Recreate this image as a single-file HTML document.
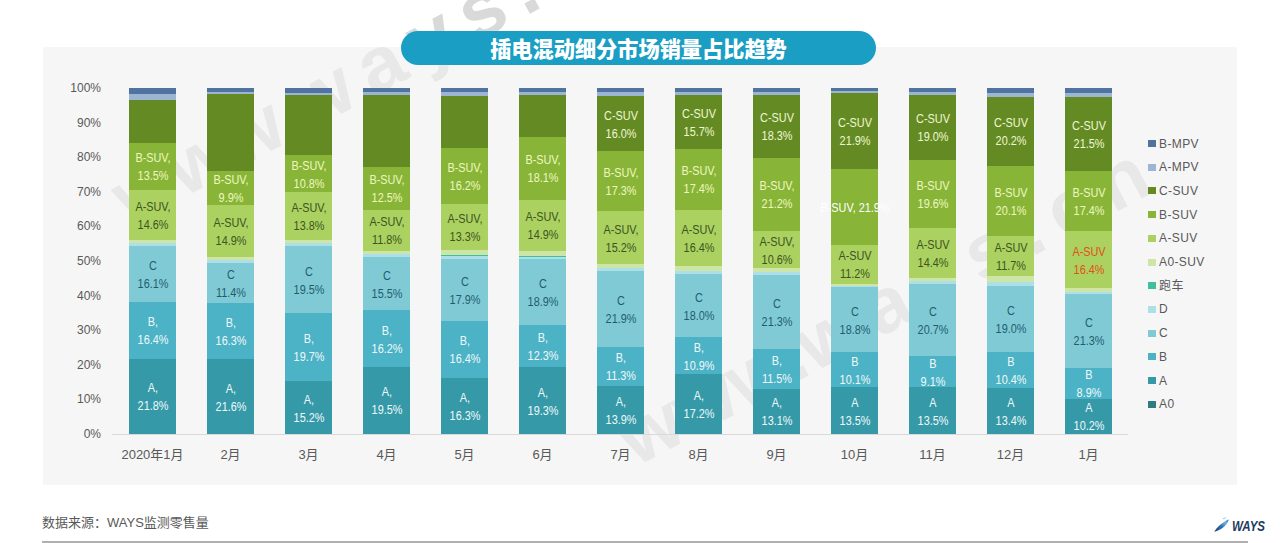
<!DOCTYPE html>
<html><head><meta charset="utf-8"><title>插电混动细分市场销量占比趋势</title>
<style>
*{margin:0;padding:0;box-sizing:border-box}
html,body{width:1280px;height:543px;overflow:hidden;background:#fff}
body{position:relative;font-family:"Liberation Sans","Noto Sans CJK SC",sans-serif}
.panel{position:absolute;left:43px;top:47px;width:1194px;height:438px;background:#f6f6f6}
.s{position:absolute;width:47px}
.l{position:absolute;width:120px;text-align:center;font-size:12px;line-height:18px;white-space:nowrap;transform:scaleX(0.905)}
.xl{position:absolute;top:446px;width:100px;text-align:center;font-size:13px;line-height:18px;color:#595959;white-space:nowrap}
.yl{position:absolute;left:40px;width:61px;text-align:right;font-size:12px;line-height:16px;color:#595959}
.axis{position:absolute;left:112px;top:434px;width:1016px;height:1px;background:#d9d9d9}
.lg{position:absolute;left:1148px;width:8px;height:7px}
.lt{position:absolute;left:1159px;font-size:12px;line-height:16px;color:#595959;letter-spacing:0.4px;white-space:nowrap}
.pill{position:absolute;left:401px;top:31px;width:475px;height:34px;border-radius:17px;background:#1a9ec4}
.title{position:absolute;left:401px;top:30.7px;width:475px;height:34px;line-height:34px;text-align:center;color:#fff;font-weight:900;font-size:21.2px;font-family:"Noto Sans CJK SC",sans-serif;padding-left:0px}
.src{position:absolute;left:42px;top:514px;font-size:13px;line-height:18px;color:#595959;white-space:nowrap}
.bline{position:absolute;left:42px;top:541px;width:1206px;height:2px;background:#b0b0b0}
.logo{position:absolute;left:1231.5px;top:517.5px;font-size:14.4px;font-weight:bold;font-style:italic;color:#1d3b5e;line-height:17px;transform:scaleX(0.8);transform-origin:0 0}
.wmc{position:absolute;overflow:hidden}
.wm{position:absolute;font-family:"Liberation Sans",sans-serif;font-weight:bold;font-size:78px;line-height:1;color:#e8e8e8;white-space:nowrap;transform-origin:0 0;transform:rotate(-28deg);letter-spacing:14px}
</style></head><body>
<div class="panel"></div>
<div class="wmc" style="left:0;top:0;width:1280px;height:47px"><div class="wm" style="left:99px;top:167.5px;color:#d9d9d9"><span style="letter-spacing:0">www.</span>ways.cn</div></div>
<div class="wmc" style="left:43px;top:47px;width:1194px;height:438px"><div class="wm" style="left:56px;top:120.5px"><span style="letter-spacing:0">www.</span>ways.cn</div><div class="wm" style="left:562px;top:361.5px"><span style="letter-spacing:0">www.</span>ways.cn</div></div>
<div class="pill"></div>
<div class="title">插电混动细分市场销量占比趋势</div>
<div class="yl" style="top:426px">0%</div>
<div class="yl" style="top:391.4px">10%</div>
<div class="yl" style="top:356.8px">20%</div>
<div class="yl" style="top:322.2px">30%</div>
<div class="yl" style="top:287.6px">40%</div>
<div class="yl" style="top:253px">50%</div>
<div class="yl" style="top:218.4px">60%</div>
<div class="yl" style="top:183.8px">70%</div>
<div class="yl" style="top:149.2px">80%</div>
<div class="yl" style="top:114.6px">90%</div>
<div class="yl" style="top:80px">100%</div>
<div class="axis"></div>
<div class="s" style="left:129px;top:88px;height:6px;background:#50749f"></div>
<div class="s" style="left:129px;top:94px;height:6px;background:#9bb5d2"></div>
<div class="s" style="left:129px;top:100px;height:43px;background:#648b23"></div>
<div class="s" style="left:129px;top:143px;height:46.71px;background:#88b537"></div>
<div class="s" style="left:129px;top:189.71px;height:50.52px;background:#abd160"></div>
<div class="s" style="left:129px;top:240.23px;height:3.24px;background:#cde5a6"></div>
<div class="s" style="left:129px;top:243.47px;height:2.65px;background:#ace0e6"></div>
<div class="s" style="left:129px;top:246.12px;height:55.71px;background:#80cad6"></div>
<div class="s" style="left:129px;top:301.83px;height:56.74px;background:#4cb2c5"></div>
<div class="s" style="left:129px;top:358.57px;height:75.43px;background:#3599a8"></div>
<div class="s" style="left:207px;top:88px;height:3.75px;background:#50749f"></div>
<div class="s" style="left:207px;top:91.75px;height:2.25px;background:#9bb5d2"></div>
<div class="s" style="left:207px;top:94px;height:76.75px;background:#648b23"></div>
<div class="s" style="left:207px;top:170.75px;height:34.25px;background:#88b537"></div>
<div class="s" style="left:207px;top:205px;height:51.55px;background:#abd160"></div>
<div class="s" style="left:207px;top:256.56px;height:3.78px;background:#cde5a6"></div>
<div class="s" style="left:207px;top:260.33px;height:3.09px;background:#ace0e6"></div>
<div class="s" style="left:207px;top:263.42px;height:39.44px;background:#80cad6"></div>
<div class="s" style="left:207px;top:302.87px;height:56.4px;background:#4cb2c5"></div>
<div class="s" style="left:207px;top:359.26px;height:74.74px;background:#3599a8"></div>
<div class="s" style="left:285px;top:88px;height:4.5px;background:#50749f"></div>
<div class="s" style="left:285px;top:92.5px;height:2.5px;background:#9bb5d2"></div>
<div class="s" style="left:285px;top:95px;height:60px;background:#648b23"></div>
<div class="s" style="left:285px;top:155px;height:37.37px;background:#88b537"></div>
<div class="s" style="left:285px;top:192.37px;height:47.75px;background:#abd160"></div>
<div class="s" style="left:285px;top:240.12px;height:3.11px;background:#cde5a6"></div>
<div class="s" style="left:285px;top:243.23px;height:2.55px;background:#ace0e6"></div>
<div class="s" style="left:285px;top:245.78px;height:67.47px;background:#80cad6"></div>
<div class="s" style="left:285px;top:313.25px;height:68.16px;background:#4cb2c5"></div>
<div class="s" style="left:285px;top:381.41px;height:52.59px;background:#3599a8"></div>
<div class="s" style="left:363px;top:88px;height:4px;background:#50749f"></div>
<div class="s" style="left:363px;top:92px;height:3px;background:#9bb5d2"></div>
<div class="s" style="left:363px;top:95px;height:71.75px;background:#648b23"></div>
<div class="s" style="left:363px;top:166.75px;height:43.25px;background:#88b537"></div>
<div class="s" style="left:363px;top:210px;height:40.83px;background:#abd160"></div>
<div class="s" style="left:363px;top:250.83px;height:3.31px;background:#cde5a6"></div>
<div class="s" style="left:363px;top:254.14px;height:2.71px;background:#ace0e6"></div>
<div class="s" style="left:363px;top:256.85px;height:53.63px;background:#80cad6"></div>
<div class="s" style="left:363px;top:310.48px;height:56.05px;background:#4cb2c5"></div>
<div class="s" style="left:363px;top:366.53px;height:67.47px;background:#3599a8"></div>
<div class="s" style="left:441px;top:88px;height:4px;background:#50749f"></div>
<div class="s" style="left:441px;top:92px;height:4px;background:#9bb5d2"></div>
<div class="s" style="left:441px;top:96px;height:52px;background:#648b23"></div>
<div class="s" style="left:441px;top:148px;height:56.05px;background:#88b537"></div>
<div class="s" style="left:441px;top:204.05px;height:46.02px;background:#abd160"></div>
<div class="s" style="left:441px;top:250.07px;height:4.87px;background:#cde5a6"></div>
<div class="s" style="left:441px;top:254.94px;height:1px;background:#3fbf9e"></div>
<div class="s" style="left:441px;top:255.94px;height:2.98px;background:#ace0e6"></div>
<div class="s" style="left:441px;top:258.92px;height:61.93px;background:#80cad6"></div>
<div class="s" style="left:441px;top:320.86px;height:56.74px;background:#4cb2c5"></div>
<div class="s" style="left:441px;top:377.6px;height:56.4px;background:#3599a8"></div>
<div class="s" style="left:519px;top:88px;height:4px;background:#50749f"></div>
<div class="s" style="left:519px;top:92px;height:3px;background:#9bb5d2"></div>
<div class="s" style="left:519px;top:95px;height:42px;background:#648b23"></div>
<div class="s" style="left:519px;top:137px;height:62.63px;background:#88b537"></div>
<div class="s" style="left:519px;top:199.63px;height:51.55px;background:#abd160"></div>
<div class="s" style="left:519px;top:251.18px;height:4.45px;background:#cde5a6"></div>
<div class="s" style="left:519px;top:255.63px;height:1px;background:#3fbf9e"></div>
<div class="s" style="left:519px;top:256.63px;height:2.64px;background:#ace0e6"></div>
<div class="s" style="left:519px;top:259.27px;height:65.39px;background:#80cad6"></div>
<div class="s" style="left:519px;top:324.66px;height:42.56px;background:#4cb2c5"></div>
<div class="s" style="left:519px;top:367.22px;height:66.78px;background:#3599a8"></div>
<div class="s" style="left:597px;top:88px;height:4px;background:#50749f"></div>
<div class="s" style="left:597px;top:92px;height:4px;background:#9bb5d2"></div>
<div class="s" style="left:597px;top:96px;height:55.36px;background:#648b23"></div>
<div class="s" style="left:597px;top:151.36px;height:59.86px;background:#88b537"></div>
<div class="s" style="left:597px;top:211.22px;height:52.59px;background:#abd160"></div>
<div class="s" style="left:597px;top:263.81px;height:3.97px;background:#cde5a6"></div>
<div class="s" style="left:597px;top:267.78px;height:3.25px;background:#ace0e6"></div>
<div class="s" style="left:597px;top:271.03px;height:75.77px;background:#80cad6"></div>
<div class="s" style="left:597px;top:346.81px;height:39.1px;background:#4cb2c5"></div>
<div class="s" style="left:597px;top:385.91px;height:48.09px;background:#3599a8"></div>
<div class="s" style="left:675px;top:88px;height:4px;background:#50749f"></div>
<div class="s" style="left:675px;top:92px;height:3px;background:#9bb5d2"></div>
<div class="s" style="left:675px;top:95px;height:54.32px;background:#648b23"></div>
<div class="s" style="left:675px;top:149.32px;height:60.2px;background:#88b537"></div>
<div class="s" style="left:675px;top:209.53px;height:56.74px;background:#abd160"></div>
<div class="s" style="left:675px;top:266.27px;height:4.52px;background:#cde5a6"></div>
<div class="s" style="left:675px;top:270.79px;height:3.7px;background:#ace0e6"></div>
<div class="s" style="left:675px;top:274.49px;height:62.28px;background:#80cad6"></div>
<div class="s" style="left:675px;top:336.77px;height:37.71px;background:#4cb2c5"></div>
<div class="s" style="left:675px;top:374.49px;height:59.51px;background:#3599a8"></div>
<div class="s" style="left:753px;top:88px;height:4px;background:#50749f"></div>
<div class="s" style="left:753px;top:92px;height:2.5px;background:#9bb5d2"></div>
<div class="s" style="left:753px;top:94.5px;height:63.32px;background:#648b23"></div>
<div class="s" style="left:753px;top:157.82px;height:73.35px;background:#88b537"></div>
<div class="s" style="left:753px;top:231.17px;height:36.68px;background:#abd160"></div>
<div class="s" style="left:753px;top:267.85px;height:4.04px;background:#cde5a6"></div>
<div class="s" style="left:753px;top:271.88px;height:3.3px;background:#ace0e6"></div>
<div class="s" style="left:753px;top:275.19px;height:73.7px;background:#80cad6"></div>
<div class="s" style="left:753px;top:348.88px;height:39.79px;background:#4cb2c5"></div>
<div class="s" style="left:753px;top:388.67px;height:45.33px;background:#3599a8"></div>
<div class="s" style="left:831px;top:88px;height:3.25px;background:#50749f"></div>
<div class="s" style="left:831px;top:91.25px;height:2px;background:#9bb5d2"></div>
<div class="s" style="left:831px;top:93.25px;height:75.77px;background:#648b23"></div>
<div class="s" style="left:831px;top:169.02px;height:75.77px;background:#88b537"></div>
<div class="s" style="left:831px;top:244.8px;height:38.75px;background:#abd160"></div>
<div class="s" style="left:831px;top:283.55px;height:2.06px;background:#cde5a6"></div>
<div class="s" style="left:831px;top:285.61px;height:1.69px;background:#ace0e6"></div>
<div class="s" style="left:831px;top:287.3px;height:65.05px;background:#80cad6"></div>
<div class="s" style="left:831px;top:352.34px;height:34.95px;background:#4cb2c5"></div>
<div class="s" style="left:831px;top:387.29px;height:46.71px;background:#3599a8"></div>
<div class="s" style="left:909px;top:88px;height:4px;background:#50749f"></div>
<div class="s" style="left:909px;top:92px;height:2.5px;background:#9bb5d2"></div>
<div class="s" style="left:909px;top:94.5px;height:65.74px;background:#648b23"></div>
<div class="s" style="left:909px;top:160.24px;height:67.82px;background:#88b537"></div>
<div class="s" style="left:909px;top:228.06px;height:49.82px;background:#abd160"></div>
<div class="s" style="left:909px;top:277.88px;height:3.47px;background:#cde5a6"></div>
<div class="s" style="left:909px;top:281.35px;height:2.84px;background:#ace0e6"></div>
<div class="s" style="left:909px;top:284.18px;height:71.62px;background:#80cad6"></div>
<div class="s" style="left:909px;top:355.8px;height:31.49px;background:#4cb2c5"></div>
<div class="s" style="left:909px;top:387.29px;height:46.71px;background:#3599a8"></div>
<div class="s" style="left:987px;top:88px;height:4.5px;background:#50749f"></div>
<div class="s" style="left:987px;top:92.5px;height:4px;background:#9bb5d2"></div>
<div class="s" style="left:987px;top:96.5px;height:69.89px;background:#648b23"></div>
<div class="s" style="left:987px;top:166.39px;height:69.55px;background:#88b537"></div>
<div class="s" style="left:987px;top:235.94px;height:40.48px;background:#abd160"></div>
<div class="s" style="left:987px;top:276.42px;height:5.22px;background:#cde5a6"></div>
<div class="s" style="left:987px;top:281.64px;height:4.27px;background:#ace0e6"></div>
<div class="s" style="left:987px;top:285.91px;height:65.74px;background:#80cad6"></div>
<div class="s" style="left:987px;top:351.65px;height:35.98px;background:#4cb2c5"></div>
<div class="s" style="left:987px;top:387.64px;height:46.36px;background:#3599a8"></div>
<div class="s" style="left:1065px;top:88px;height:4.9px;background:#50749f"></div>
<div class="s" style="left:1065px;top:92.9px;height:4px;background:#9bb5d2"></div>
<div class="s" style="left:1065px;top:96.9px;height:74.39px;background:#648b23"></div>
<div class="s" style="left:1065px;top:171.29px;height:60.2px;background:#88b537"></div>
<div class="s" style="left:1065px;top:231.49px;height:56.74px;background:#abd160"></div>
<div class="s" style="left:1065px;top:288.24px;height:3.29px;background:#cde5a6"></div>
<div class="s" style="left:1065px;top:291.53px;height:2.69px;background:#ace0e6"></div>
<div class="s" style="left:1065px;top:294.22px;height:73.7px;background:#80cad6"></div>
<div class="s" style="left:1065px;top:367.91px;height:30.79px;background:#4cb2c5"></div>
<div class="s" style="left:1065px;top:398.71px;height:35.29px;background:#3599a8"></div>
<div class="l" style="left:92.5px;top:149.36px;color:#eef7c0">B-SUV,<br>13.5%</div>
<div class="l" style="left:92.5px;top:197.97px;color:#3d5422">A-SUV,<br>14.6%</div>
<div class="l" style="left:92.5px;top:256.98px;color:#1f5d6d">C<br>16.1%</div>
<div class="l" style="left:92.5px;top:313.2px;color:#effafb">B,<br>16.4%</div>
<div class="l" style="left:92.5px;top:379.29px;color:#effafb">A,<br>21.8%</div>
<div class="xl" style="left:102.5px">2020年1月</div>
<div class="l" style="left:170.5px;top:170.88px;color:#eef7c0">B-SUV,<br>9.9%</div>
<div class="l" style="left:170.5px;top:213.78px;color:#3d5422">A-SUV,<br>14.9%</div>
<div class="l" style="left:170.5px;top:266.14px;color:#1f5d6d">C<br>11.4%</div>
<div class="l" style="left:170.5px;top:314.06px;color:#effafb">B,<br>16.3%</div>
<div class="l" style="left:170.5px;top:379.63px;color:#effafb">A,<br>21.6%</div>
<div class="xl" style="left:180.5px">2月</div>
<div class="l" style="left:248.5px;top:156.68px;color:#eef7c0">B-SUV,<br>10.8%</div>
<div class="l" style="left:248.5px;top:199.24px;color:#3d5422">A-SUV,<br>13.8%</div>
<div class="l" style="left:248.5px;top:262.51px;color:#1f5d6d">C<br>19.5%</div>
<div class="l" style="left:248.5px;top:330.33px;color:#effafb">B,<br>19.7%</div>
<div class="l" style="left:248.5px;top:390.7px;color:#effafb">A,<br>15.2%</div>
<div class="xl" style="left:258.5px">3月</div>
<div class="l" style="left:326.5px;top:171.38px;color:#eef7c0">B-SUV,<br>12.5%</div>
<div class="l" style="left:326.5px;top:213.41px;color:#3d5422">A-SUV,<br>11.8%</div>
<div class="l" style="left:326.5px;top:266.66px;color:#1f5d6d">C<br>15.5%</div>
<div class="l" style="left:326.5px;top:321.5px;color:#effafb">B,<br>16.2%</div>
<div class="l" style="left:326.5px;top:383.26px;color:#effafb">A,<br>19.5%</div>
<div class="xl" style="left:336.5px">4月</div>
<div class="l" style="left:404.5px;top:159.03px;color:#eef7c0">B-SUV,<br>16.2%</div>
<div class="l" style="left:404.5px;top:210.06px;color:#3d5422">A-SUV,<br>13.3%</div>
<div class="l" style="left:404.5px;top:272.89px;color:#1f5d6d">C<br>17.9%</div>
<div class="l" style="left:404.5px;top:332.23px;color:#effafb">B,<br>16.4%</div>
<div class="l" style="left:404.5px;top:388.8px;color:#effafb">A,<br>16.3%</div>
<div class="xl" style="left:414.5px">5月</div>
<div class="l" style="left:482.5px;top:151.31px;color:#eef7c0">B-SUV,<br>18.1%</div>
<div class="l" style="left:482.5px;top:208.4px;color:#3d5422">A-SUV,<br>14.9%</div>
<div class="l" style="left:482.5px;top:274.97px;color:#1f5d6d">C<br>18.9%</div>
<div class="l" style="left:482.5px;top:328.94px;color:#effafb">B,<br>12.3%</div>
<div class="l" style="left:482.5px;top:383.61px;color:#effafb">A,<br>19.3%</div>
<div class="xl" style="left:492.5px">6月</div>
<div class="l" style="left:560.5px;top:106.68px;color:#f0f7d4">C-SUV<br>16.0%</div>
<div class="l" style="left:560.5px;top:164.29px;color:#eef7c0">B-SUV,<br>17.3%</div>
<div class="l" style="left:560.5px;top:220.51px;color:#3d5422">A-SUV,<br>15.2%</div>
<div class="l" style="left:560.5px;top:291.92px;color:#1f5d6d">C<br>21.9%</div>
<div class="l" style="left:560.5px;top:349.36px;color:#effafb">B,<br>11.3%</div>
<div class="l" style="left:560.5px;top:392.95px;color:#effafb">A,<br>13.9%</div>
<div class="xl" style="left:570.5px">7月</div>
<div class="l" style="left:638.5px;top:105.16px;color:#f0f7d4">C-SUV<br>15.7%</div>
<div class="l" style="left:638.5px;top:162.42px;color:#eef7c0">B-SUV,<br>17.4%</div>
<div class="l" style="left:638.5px;top:220.9px;color:#3d5422">A-SUV,<br>16.4%</div>
<div class="l" style="left:638.5px;top:288.63px;color:#1f5d6d">C<br>18.0%</div>
<div class="l" style="left:638.5px;top:338.63px;color:#effafb">B,<br>10.9%</div>
<div class="l" style="left:638.5px;top:387.24px;color:#effafb">A,<br>17.2%</div>
<div class="xl" style="left:648.5px">8月</div>
<div class="l" style="left:716.5px;top:109.16px;color:#f0f7d4">C-SUV<br>18.3%</div>
<div class="l" style="left:716.5px;top:177.49px;color:#eef7c0">B-SUV,<br>21.2%</div>
<div class="l" style="left:716.5px;top:232.51px;color:#3d5422">A-SUV,<br>10.6%</div>
<div class="l" style="left:716.5px;top:295.03px;color:#1f5d6d">C<br>21.3%</div>
<div class="l" style="left:716.5px;top:351.78px;color:#effafb">B,<br>11.5%</div>
<div class="l" style="left:716.5px;top:394.34px;color:#effafb">A,<br>13.1%</div>
<div class="xl" style="left:726.5px">9月</div>
<div class="l" style="left:794.5px;top:114.14px;color:#f0f7d4">C-SUV<br>21.9%</div>
<div class="l" style="left:794.5px;top:198.91px;color:#ffffff">B-SUV, 21.9%</div>
<div class="l" style="left:794.5px;top:247.17px;color:#3d5422">A-SUV<br>11.2%</div>
<div class="l" style="left:794.5px;top:302.82px;color:#1f5d6d">C<br>18.8%</div>
<div class="l" style="left:794.5px;top:352.82px;color:#effafb">B<br>10.1%</div>
<div class="l" style="left:794.5px;top:393.64px;color:#effafb">A<br>13.5%</div>
<div class="xl" style="left:804.5px">10月</div>
<div class="l" style="left:872.5px;top:110.37px;color:#f0f7d4">C-SUV<br>19.0%</div>
<div class="l" style="left:872.5px;top:177.15px;color:#eef7c0">B-SUV<br>19.6%</div>
<div class="l" style="left:872.5px;top:235.97px;color:#3d5422">A-SUV<br>14.4%</div>
<div class="l" style="left:872.5px;top:302.99px;color:#1f5d6d">C<br>20.7%</div>
<div class="l" style="left:872.5px;top:354.55px;color:#effafb">B<br>9.1%</div>
<div class="l" style="left:872.5px;top:393.64px;color:#effafb">A<br>13.5%</div>
<div class="xl" style="left:882.5px">11月</div>
<div class="l" style="left:950.5px;top:114.45px;color:#f0f7d4">C-SUV<br>20.2%</div>
<div class="l" style="left:950.5px;top:184.16px;color:#eef7c0">B-SUV<br>20.1%</div>
<div class="l" style="left:950.5px;top:239.18px;color:#3d5422">A-SUV<br>11.7%</div>
<div class="l" style="left:950.5px;top:301.78px;color:#1f5d6d">C<br>19.0%</div>
<div class="l" style="left:950.5px;top:352.64px;color:#effafb">B<br>10.4%</div>
<div class="l" style="left:950.5px;top:393.82px;color:#effafb">A<br>13.4%</div>
<div class="xl" style="left:960.5px">12月</div>
<div class="l" style="left:1028.5px;top:117.1px;color:#f0f7d4">C-SUV<br>21.5%</div>
<div class="l" style="left:1028.5px;top:184.39px;color:#eef7c0">B-SUV<br>17.4%</div>
<div class="l" style="left:1028.5px;top:242.87px;color:#e0501e">A-SUV<br>16.4%</div>
<div class="l" style="left:1028.5px;top:314.07px;color:#1f5d6d">C<br>21.3%</div>
<div class="l" style="left:1028.5px;top:366.31px;color:#effafb">B<br>8.9%</div>
<div class="l" style="left:1028.5px;top:399.35px;color:#effafb">A<br>10.2%</div>
<div class="xl" style="left:1038.5px">1月</div>
<div class="lg" style="top:140px;background:#50749f"></div><div class="lt" style="top:135.5px">B-MPV</div>
<div class="lg" style="top:163.7px;background:#9bb5d2"></div><div class="lt" style="top:159.2px">A-MPV</div>
<div class="lg" style="top:187.4px;background:#648b23"></div><div class="lt" style="top:182.9px">C-SUV</div>
<div class="lg" style="top:211.1px;background:#88b537"></div><div class="lt" style="top:206.6px">B-SUV</div>
<div class="lg" style="top:234.8px;background:#abd160"></div><div class="lt" style="top:230.3px">A-SUV</div>
<div class="lg" style="top:258.5px;background:#cde5a6"></div><div class="lt" style="top:254px">A0-SUV</div>
<div class="lg" style="top:282.2px;background:#3fbf9e"></div><div class="lt" style="top:277.7px">跑车</div>
<div class="lg" style="top:305.9px;background:#ace0e6"></div><div class="lt" style="top:301.4px">D</div>
<div class="lg" style="top:329.6px;background:#80cad6"></div><div class="lt" style="top:325.1px">C</div>
<div class="lg" style="top:353.3px;background:#4cb2c5"></div><div class="lt" style="top:348.8px">B</div>
<div class="lg" style="top:377px;background:#3599a8"></div><div class="lt" style="top:372.5px">A</div>
<div class="lg" style="top:400.7px;background:#2f7c83"></div><div class="lt" style="top:396.2px">A0</div>
<div class="src">数据来源：WAYS监测零售量</div>
<svg style="position:absolute;left:1212px;top:515px" width="20" height="18" viewBox="0 0 20 18">
<defs><linearGradient id="lg1" x1="0" y1="1" x2="1" y2="0"><stop offset="0" stop-color="#1b3f73"/><stop offset="0.45" stop-color="#2d6fb0"/><stop offset="0.75" stop-color="#72b2e0"/><stop offset="1" stop-color="#3b7fc0"/></linearGradient></defs>
<path d="M2.2 16.8 C4.5 12.5 8.5 9 13.2 6.2 C14.6 5.4 15.8 4.9 16.8 4.6 C16 7.8 13.5 11.2 9.8 13.6 C7.3 15.2 4.7 16.3 2.2 16.8 Z" fill="url(#lg1)"/>
<path d="M10.3 3.8 C11.6 2.9 13.2 2.4 14.8 2.2 C14.2 3 13 3.6 11.2 4.2 Z" fill="#8ec3e6"/>
</svg>
<div class="logo">WAYS</div>
<div class="bline"></div>
</body></html>
